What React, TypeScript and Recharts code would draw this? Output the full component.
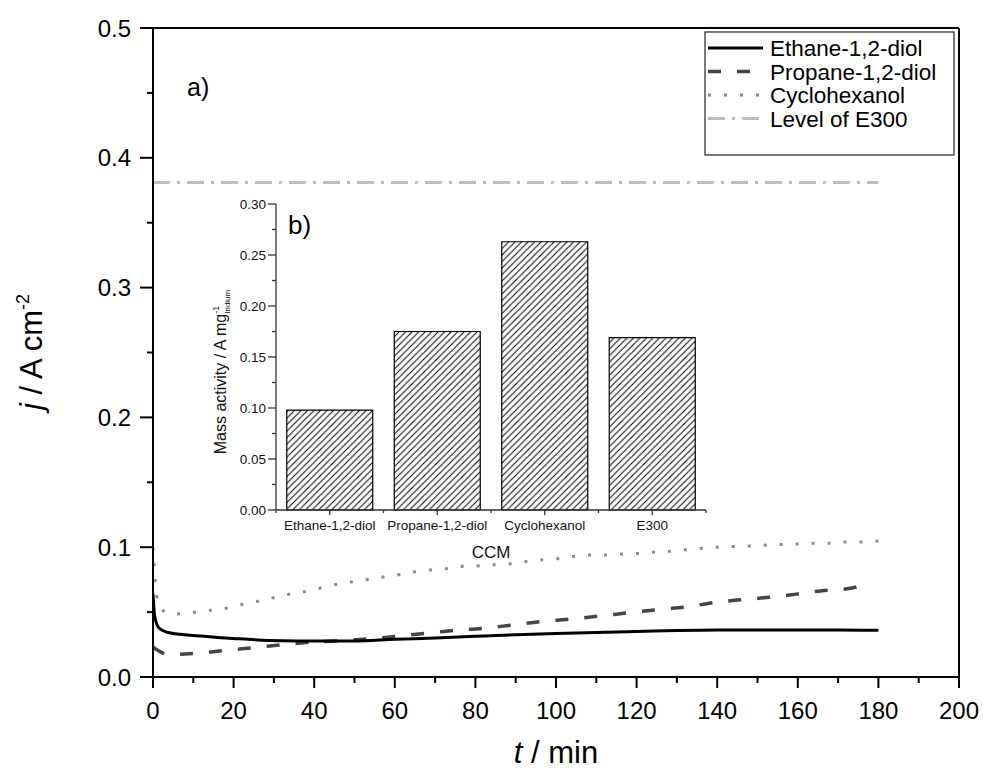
import React from 'react'
import { LineChart, Line, XAxis, YAxis, ReferenceLine, BarChart, Bar } from 'recharts'

const W = 983
const H = 774
const FONT = '"Liberation Sans", Arial, Helvetica, sans-serif'

// a) current density over time
const ETHANE_T = [0, 0.3, 0.7, 1.2, 2, 3.5, 5, 8, 12, 16, 20, 26, 32, 40, 50, 60, 70, 80, 90, 100, 110, 120, 130, 140, 150, 160, 170, 180]
const ETHANE_J = [0.064, 0.050, 0.043, 0.039, 0.0365, 0.0345, 0.0335, 0.0325, 0.0315, 0.0305, 0.0297, 0.0286, 0.028, 0.0277, 0.0277, 0.029, 0.030, 0.0313, 0.0325, 0.0335, 0.0343, 0.035, 0.0358, 0.0362, 0.0362, 0.0362, 0.0362, 0.036]

const PROPANE_T = [0, 1, 4, 8, 12, 19, 26, 33, 40, 47, 55, 61, 69, 75, 82, 89, 96, 104, 111, 118, 126, 133, 138, 145, 153, 160, 166, 173, 176, 178]
const PROPANE_J = [0.023, 0.021, 0.017, 0.0177, 0.0186, 0.0208, 0.0229, 0.0252, 0.027, 0.028, 0.0298, 0.0316, 0.0341, 0.036, 0.0375, 0.040, 0.0426, 0.0447, 0.047, 0.0495, 0.0521, 0.0542, 0.0568, 0.0593, 0.0614, 0.064, 0.0665, 0.0683, 0.0701, 0.0703]

const CYCLO_T = [0, 0.3, 0.7, 1.5, 3, 4.5, 8.5, 11, 15, 19, 23, 27, 31, 35, 39, 43, 47, 51.5, 55.7, 59, 63, 67, 72, 75, 80, 84, 88, 92, 96, 100, 104, 108, 112, 117, 121, 124, 128, 132, 136, 140, 145, 149, 154, 158, 162, 167, 171, 175, 180]
const CYCLO_J = [0.10, 0.085, 0.068, 0.056, 0.050, 0.0485, 0.049, 0.0503, 0.0516, 0.0534, 0.0565, 0.059, 0.0619, 0.0645, 0.0665, 0.0698, 0.0722, 0.0742, 0.0765, 0.0778, 0.0799, 0.082, 0.083, 0.085, 0.0855, 0.0863, 0.087, 0.0888, 0.0902, 0.091, 0.0928, 0.094, 0.094, 0.0948, 0.0953, 0.0962, 0.0968, 0.098, 0.099, 0.1, 0.1007, 0.101, 0.102, 0.102, 0.103, 0.103, 0.104, 0.104, 0.1048]

const E300_T = [0, 180]
const E300_J = [0.381, 0.381]

const X_TICKS = [0, 10, 20, 30, 40, 50, 60, 70, 80, 90, 100, 110, 120, 130, 140, 150, 160, 170, 180, 190, 200]
const Y_TICKS = [0, 0.05, 0.1, 0.15, 0.2, 0.25, 0.3, 0.35, 0.4, 0.45, 0.5]

// b) inset bars
const CCM = ['Ethane-1,2-diol', 'Propane-1,2-diol', 'Cyclohexanol', 'E300']
const MASS_ACTIVITY = [0.098, 0.175, 0.263, 0.169]
const INSET_Y_TICKS = [0, 0.025, 0.05, 0.075, 0.1, 0.125, 0.15, 0.175, 0.2, 0.225, 0.25, 0.275, 0.3]

const zip = (ts: number[], js: number[]) => ts.map((t, i) => ({ t, j: js[i] }))
const ethaneData = zip(ETHANE_T, ETHANE_J)
const propaneData = zip(PROPANE_T, PROPANE_J)
const cycloData = zip(CYCLO_T, CYCLO_J)
const e300Data = zip(E300_T, E300_J)
const barData = CCM.map((name, i) => ({ name, value: MASS_ACTIVITY[i] }))

const ETHANE_STYLE = { stroke: '#000', strokeWidth: 3 }
const PROPANE_STYLE = { stroke: '#454545', strokeWidth: 3.5, strokeDasharray: '13 16' }
const CYCLO_STYLE = { stroke: '#8a8a8a', strokeWidth: 3, strokeDasharray: '3 13' }
const E300_STYLE = { stroke: '#bdbdbd', strokeWidth: 3, strokeDasharray: '17 7 3 7' }

const INSET_BAND = (706 - 276) / 4

const XTick = (p: any) => {
  const { x, y, payload } = p
  const major = payload.value % 20 === 0
  return (
    <g>
      <line x1={x} x2={x} y1={y} y2={y + (major ? 11 : 6)} stroke="#000" strokeWidth={2} />
      {major && (
        <text x={x} y={y + 42} textAnchor="middle" fontSize={24} fontFamily={FONT} fill="#000">{payload.value}</text>
      )}
    </g>
  )
}

const YTick = (p: any) => {
  const { x, y, payload } = p
  const major = Math.round(payload.value * 100) % 10 === 0
  return (
    <g>
      <line x1={x} x2={x - (major ? 13 : 6)} y1={y} y2={y} stroke="#000" strokeWidth={2} />
      {major && (
        <text x={x - 22} y={y + 8.5} textAnchor="end" fontSize={24} fontFamily={FONT} fill="#000">{payload.value.toFixed(1)}</text>
      )}
    </g>
  )
}

const InsetYTick = (p: any) => {
  const { x, y, payload } = p
  const major = Math.round(payload.value * 1000) % 50 === 0
  return (
    <g>
      <line x1={x} x2={x - (major ? 8 : 4)} y1={y} y2={y} stroke="#333" strokeWidth={1.3} />
      {major && (
        <text x={x - 10} y={y + 5} textAnchor="end" fontSize={13.5} fontFamily={FONT} fill="#111">{payload.value.toFixed(2)}</text>
      )}
    </g>
  )
}

const InsetXTick = (p: any) => {
  const { x, y, payload, index } = p
  return (
    <g>
      <line x1={x} x2={x} y1={y} y2={y + 5} stroke="#333" strokeWidth={1.3} />
      <line x1={x - INSET_BAND / 2} x2={x - INSET_BAND / 2} y1={y} y2={y + 3} stroke="#333" strokeWidth={1.3} />
      {index === CCM.length - 1 && (
        <line x1={x + INSET_BAND / 2} x2={x + INSET_BAND / 2} y1={y} y2={y + 3} stroke="#333" strokeWidth={1.3} />
      )}
      <text x={x} y={y + 20} textAnchor="middle" fontSize={13.5} fontFamily={FONT} fill="#111">{payload.value}</text>
    </g>
  )
}

const LEGEND = [
  { label: 'Ethane-1,2-diol', style: ETHANE_STYLE },
  { label: 'Propane-1,2-diol', style: PROPANE_STYLE },
  { label: 'Cyclohexanol', style: CYCLO_STYLE },
  { label: 'Level of E300', style: E300_STYLE },
]

export default function App() {
  return (
    <div style={{ position: 'absolute', left: 0, top: 0, width: W, height: H, background: '#fff', overflow: 'hidden' }}>
      {/* main chart */}
      <div style={{ position: 'absolute', left: 0, top: 0 }}>
        <LineChart width={W} height={H} margin={{ top: 28, right: 24, bottom: 37, left: 73 }}>
          <XAxis
            dataKey="t"
            type="number"
            domain={[0, 200]}
            ticks={X_TICKS}
            interval={0}
            allowDataOverflow
            height={60}
            axisLine={{ stroke: '#000', strokeWidth: 2 }}
            tickLine={false}
            tickSize={0}
            tickMargin={0}
            tick={<XTick />}
          />
          <YAxis
            type="number"
            domain={[0, 0.5]}
            ticks={Y_TICKS}
            interval={0}
            allowDataOverflow
            width={80}
            axisLine={{ stroke: '#000', strokeWidth: 2 }}
            tickLine={false}
            tickSize={0}
            tickMargin={0}
            tick={<YTick />}
          />
          <ReferenceLine y={0.5} stroke="#000" strokeWidth={2} />
          <ReferenceLine x={200} stroke="#000" strokeWidth={2} />
          <Line data={e300Data} dataKey="j" type="linear" dot={false} {...E300_STYLE} isAnimationActive={false} />
          <Line data={cycloData} dataKey="j" type="monotone" dot={false} {...CYCLO_STYLE} isAnimationActive={false} />
          <Line data={propaneData} dataKey="j" type="monotone" dot={false} {...PROPANE_STYLE} isAnimationActive={false} />
          <Line data={ethaneData} dataKey="j" type="monotone" dot={false} {...ETHANE_STYLE} isAnimationActive={false} />
        </LineChart>
      </div>

      {/* inset b) */}
      <div style={{ position: 'absolute', left: 190, top: 190 }}>
        <BarChart width={530} height={380} data={barData} margin={{ top: 14, right: 14, bottom: 10, left: 26 }} barCategoryGap="10%">
          <defs>
            <pattern id="hatch" patternUnits="userSpaceOnUse" width="6.5" height="6.5">
              <rect width="6.5" height="6.5" fill="#fff" />
              <path d="M-1,1 l2,-2 M0,6.5 l6.5,-6.5 M5.5,7.5 l2,-2" stroke="#000" strokeWidth="1" />
            </pattern>
          </defs>
          <XAxis
            dataKey="name"
            height={50}
            axisLine={{ stroke: '#333', strokeWidth: 1.3 }}
            tickLine={false}
            tickSize={0}
            tickMargin={0}
            interval={0}
            tick={<InsetXTick />}
          />
          <YAxis
            type="number"
            domain={[0, 0.3]}
            ticks={INSET_Y_TICKS}
            interval={0}
            width={60}
            axisLine={{ stroke: '#333', strokeWidth: 1.3 }}
            tickLine={false}
            tickSize={0}
            tickMargin={0}
            tick={<InsetYTick />}
          />
          <Bar dataKey="value" fill="url(#hatch)" stroke="#000" strokeWidth={1.2} isAnimationActive={false} />
        </BarChart>
      </div>

      {/* titles, panel letters, legend */}
      <svg width={W} height={H} style={{ position: 'absolute', left: 0, top: 0, pointerEvents: 'none' }} fontFamily={FONT}>
        <text x={556} y={763} textAnchor="middle" fontSize={31} fill="#000">
          <tspan fontStyle="italic">t</tspan> / min
        </text>
        <text x={42} y={352} textAnchor="middle" fontSize={31} fill="#000" transform="rotate(-90, 42, 352)">
          <tspan fontStyle="italic">j</tspan> / A cm<tspan dy={-13} fontSize={18}>-2</tspan>
        </text>
        <text x={187} y={96} fontSize={25} fill="#000">a)</text>
        <text x={288} y={234} fontSize={26} fill="#000">b)</text>
        <text x={491} y={558} textAnchor="middle" fontSize={17} fill="#111">CCM</text>
        <text x={226} y={372} textAnchor="middle" fontSize={16} fill="#111" transform="rotate(-90, 226, 372)">
          Mass activity / A mg<tspan dy={-7} fontSize={9}>-1</tspan><tspan dx={-8} dy={11} fontSize={8}>Iridium</tspan>
        </text>

        <rect x={705} y={32} width={249} height={123} fill="#fff" stroke="#333" strokeWidth={1.3} />
        {LEGEND.map((item, i) => {
          const cy = 48 + i * 23.5
          return (
            <g key={item.label}>
              <line x1={708} x2={763} y1={cy} y2={cy} {...item.style} />
              <text x={770} y={cy + 8} fontSize={22.5} fill="#000">{item.label}</text>
            </g>
          )
        })}
      </svg>
    </div>
  )
}
